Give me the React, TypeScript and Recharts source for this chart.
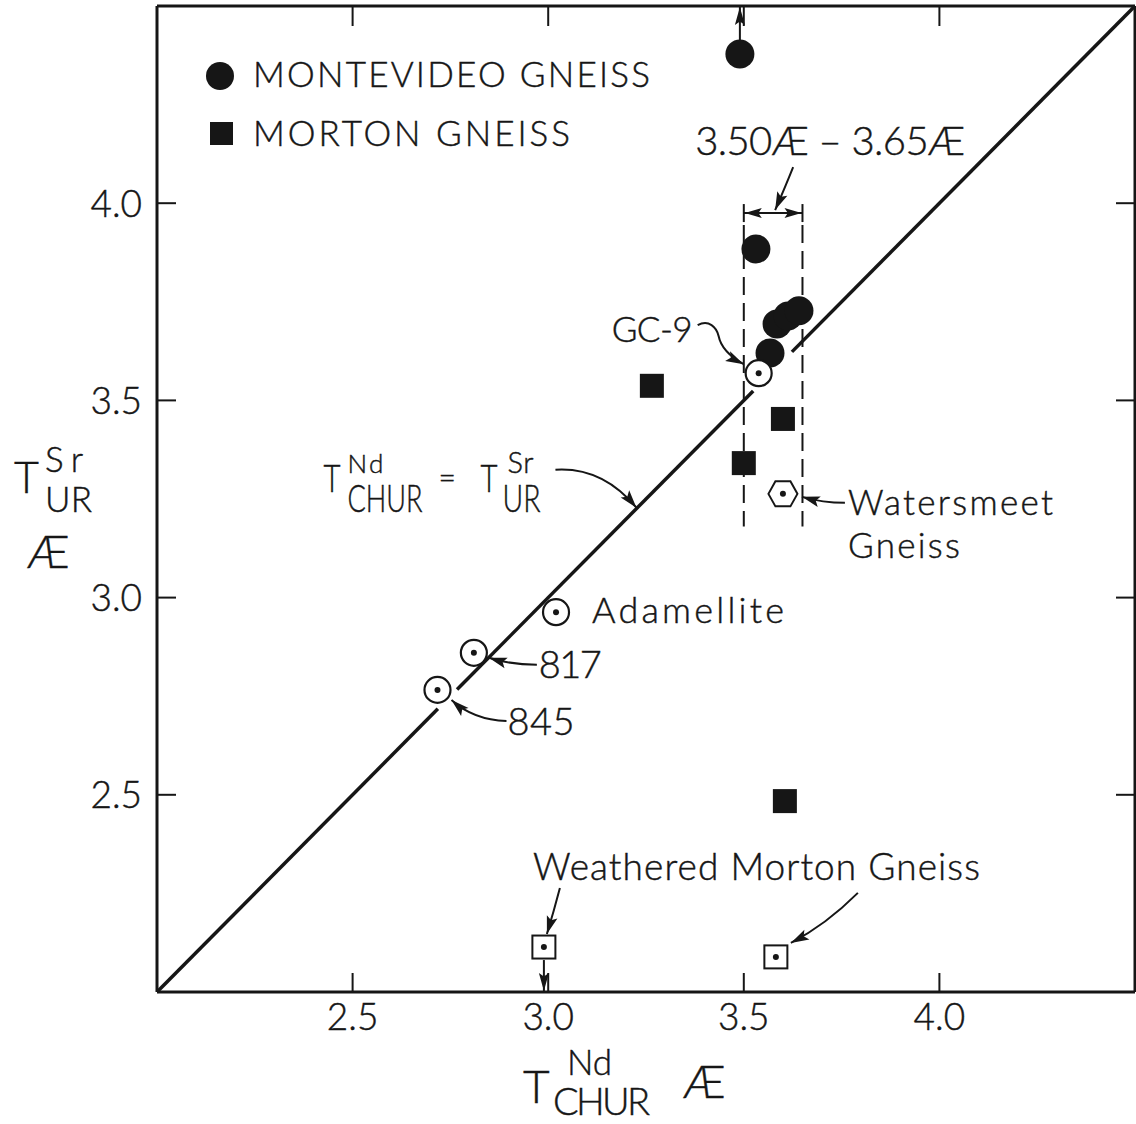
import React from 'react';
import { ScatterChart, Scatter, XAxis, YAxis, ReferenceLine, ReferenceDot, Legend } from 'recharts';

const FONT = "Lato, 'Open Sans', 'DejaVu Sans', sans-serif";
const INK = '#161616';
const W = 1136;
const H = 1124;

// Nd model ages T(CHUR) and Sr model ages T(UR), in Æ
const montevideoNd = [3.49, 3.531, 3.567, 3.585, 3.613, 3.641];
const montevideoSr = [4.378, 3.884, 3.62, 3.694, 3.714, 3.727];
const mortonNd = [3.265, 3.6, 3.5, 3.605];
const mortonSr = [3.537, 3.453, 3.341, 2.484];
const sampleNames = ['GC-9', 'Adamellite', '817', '845'];
const sampleNd = [3.538, 3.02, 2.81, 2.717];
const sampleSr = [3.569, 2.963, 2.86, 2.766];
const watersmeetNd = [3.6];
const watersmeetSr = [3.263];
const weatheredNd = [2.989, 3.582];
const weatheredSr = [2.114, 2.089];
const axisTicks = [2.5, 3.0, 3.5, 4.0];
const axisDomain = [2.0, 4.5];
const ndAgeRange = [3.5, 3.65];
// visible runs of the 1:1 line (it is broken around GC-9 and 845)
const equalityRuns = [
  [2.0, 2.718],
  [2.767, 3.524],
  [3.623, 4.5],
];

const pts = (xs: number[], ys: number[], names?: string[]) =>
  xs.map((x, i) => ({ x, y: ys[i], name: names ? names[i] : undefined }));

const fmt = (v: number) => v.toFixed(1);

function Txt({ x, y, size = 35, len, squeeze, children, anchor = 'start', dy }: any) {
  return (
    <text
      x={x}
      y={y}
      dy={dy}
      fontSize={size}
      fontFamily={FONT}
      fontWeight={300}
      fill={INK}
      stroke={INK}
      strokeWidth={0.45}
      textAnchor={anchor}
      textLength={len}
      lengthAdjust={len ? (squeeze ? 'spacingAndGlyphs' : 'spacing') : undefined}
    >
      {children}
    </text>
  );
}

function Head({ x, y, fx, fy, len = 18, half = 5.5 }: any) {
  const dx = x - fx;
  const dy = y - fy;
  const L = Math.hypot(dx, dy) || 1;
  const ux = dx / L;
  const uy = dy / L;
  const bx = x - ux * len;
  const by = y - uy * len;
  const mx = x - ux * len * 0.8;
  const my = y - uy * len * 0.8;
  return (
    <polygon
      points={`${x},${y} ${bx - uy * half},${by + ux * half} ${mx},${my} ${bx + uy * half},${by - ux * half}`}
      fill={INK}
    />
  );
}

function CurveArrow({ ox, oy, s, c, e, w = 2 }: any) {
  const S = [ox + s[0], oy + s[1]];
  const C = [ox + c[0], oy + c[1]];
  const E = [ox + e[0], oy + e[1]];
  return (
    <g>
      <path d={`M${S[0]},${S[1]} Q${C[0]},${C[1]} ${E[0]},${E[1]}`} fill="none" stroke={INK} strokeWidth={w} />
      <Head x={E[0]} y={E[1]} fx={C[0]} fy={C[1]} />
    </g>
  );
}

// label placement for the named samples, in pixels from the symbol
const sampleNotes: Record<string, any> = {
  'GC-9': { text: [-147, -31], size: 35, len: 81 },
  Adamellite: { text: [36, 11], size: 36, len: 192 },
  '817': { text: [65, 25], size: 38, len: 63, arrow: { s: [63, 12], c: [38, 12], e: [15, 5] } },
  '845': { text: [70, 45], size: 38, len: 67, arrow: { s: [69, 31], c: [36, 30], e: [14, 10] } },
};

function SampleNote({ cx, cy, name }: any) {
  const n = sampleNotes[name];
  return (
    <g>
      <Txt x={cx + n.text[0]} y={cy + n.text[1]} size={n.size} len={n.len}>
        {name}
      </Txt>
      {n.arrow && <CurveArrow ox={cx} oy={cy} {...n.arrow} />}
      {name === 'GC-9' && (
        <g>
          <path
            d={`M${cx - 61},${cy - 48} C${cx - 50},${cy - 54} ${cx - 42},${cy - 46} ${cx - 40},${cy - 37} C${cx - 38},${cy - 27} ${cx - 31},${cy - 18} ${cx - 15},${cy - 9}`}
            fill="none"
            stroke={INK}
            strokeWidth={2}
          />
          <Head x={cx - 15} y={cy - 9} fx={cx - 31} fy={cy - 17} />
        </g>
      )}
    </g>
  );
}

function WatersmeetNote({ cx, cy }: any) {
  return (
    <g>
      <Txt x={cx + 65} y={cy + 21} size={35} len={205}>Watersmeet</Txt>
      <Txt x={cx + 65} y={cy + 64} size={35} len={112}>Gneiss</Txt>
      <CurveArrow ox={cx} oy={cy} s={[62, 9]} c={[40, 9]} e={[19, 3]} />
    </g>
  );
}

function WeatheredNote({ cx, cy }: any) {
  return (
    <g>
      <Txt x={cx - 11} y={cy - 67} size={37} len={447}>Weathered Morton Gneiss</Txt>
      <CurveArrow ox={cx} oy={cy} s={[16, -59]} c={[10, -36]} e={[3, -13]} />
    </g>
  );
}

function WeatheredNote2({ cx, cy }: any) {
  return <CurveArrow ox={cx} oy={cy} s={[82, -64]} c={[50, -32]} e={[15, -14]} />;
}

function EqualityNote({ cx, cy }: any) {
  return (
    <g>
      <Txt x={cx - 303} y={cy - 27} size={38} len={17} squeeze>T</Txt>
      <Txt x={cx - 279} y={cy - 46} size={26} len={36}>Nd</Txt>
      <Txt x={cx - 279} y={cy - 7} size={37} len={75} squeeze>CHUR</Txt>
      <Txt x={cx - 188} y={cy - 31} size={30}>=</Txt>
      <Txt x={cx - 146} y={cy - 27} size={38} len={17} squeeze>T</Txt>
      <Txt x={cx - 119} y={cy - 46} size={29} len={26}>Sr</Txt>
      <Txt x={cx - 124} y={cy - 7} size={37} len={38} squeeze>UR</Txt>
      <CurveArrow ox={cx} oy={cy} s={[-71, -49]} c={[-24, -52]} e={[10, -11]} />
    </g>
  );
}

function RangeBracket({ x1, y1, x2 }: any) {
  const y = y1;
  const mid = (x1 + x2) / 2;
  return (
    <g>
      <line x1={x1} x2={x1} y1={y - 9} y2={y + 9} stroke={INK} strokeWidth={2} />
      <line x1={x2} x2={x2} y1={y - 9} y2={y + 9} stroke={INK} strokeWidth={2} />
      <line x1={x1} x2={x2} y1={y} y2={y} stroke={INK} strokeWidth={2} />
      <Head x={x1 + 1} y={y} fx={mid} fy={y} len={17} half={5} />
      <Head x={x2 - 1} y={y} fx={mid} fy={y} len={17} half={5} />
      <Txt x={mid - 78} y={y - 58} size={40} len={270}>
        {`${ndAgeRange[0].toFixed(2)}Æ – ${ndAgeRange[1].toFixed(2)}Æ`}
      </Txt>
      <CurveArrow ox={mid} oy={y} s={[20, -46]} c={[12, -26]} e={[2, -3]} />
    </g>
  );
}

// arrow from a symbol out to the frame (value beyond the plotted range)
function LimitArrow({ x1, y1, x2, y2 }: any) {
  const dir = Math.sign(y2 - y1);
  const gap = 13;
  return (
    <g>
      <line x1={x1} x2={x2} y1={y1 + dir * gap} y2={y2} stroke={INK} strokeWidth={2} />
      <Head x={x2} y={y2 - dir * 1} fx={x1} fy={y1} len={18} half={5} />
    </g>
  );
}

const filledCircle = (p: any) => <circle cx={p.cx} cy={p.cy} r={14.5} fill={INK} />;
const filledSquare = (p: any) => <rect x={p.cx - 12} y={p.cy - 12} width={24} height={24} fill={INK} />;
const dottedCircle = (p: any) => (
  <g>
    <circle cx={p.cx} cy={p.cy} r={13} fill="#fff" stroke={INK} strokeWidth={2.2} />
    <circle cx={p.cx} cy={p.cy} r={3} fill={INK} />
  </g>
);
const dottedHexagon = (p: any) => {
  const { cx, cy } = p;
  const d = `M${cx - 14.5},${cy} L${cx - 7.5},${cy - 12.5} L${cx + 7.5},${cy - 12.5} L${cx + 14.5},${cy} L${cx + 7.5},${cy + 12.5} L${cx - 7.5},${cy + 12.5} Z`;
  return (
    <g>
      <path d={d} fill="#fff" stroke={INK} strokeWidth={2} />
      <circle cx={cx} cy={cy} r={3} fill={INK} />
    </g>
  );
};
const dottedSquare = (p: any) => (
  <g>
    <rect x={p.cx - 11.5} y={p.cy - 11.5} width={23} height={23} fill="#fff" stroke={INK} strokeWidth={2} />
    <circle cx={p.cx} cy={p.cy} r={3} fill={INK} />
  </g>
);

// axis ticks point into the frame; labels sit outside it
const BOTTOM_GAP = 11;
const LEFT_GAP = 15;
const TICK_LEN = 19;
const BottomTick = ({ x, y, payload }: any) => (
  <g>
    <line x1={x} x2={x} y1={y - BOTTOM_GAP} y2={y - BOTTOM_GAP - TICK_LEN} stroke={INK} strokeWidth={2} />
    <Txt x={x} y={y} dy="0.72em" size={37} anchor="middle">{fmt(payload.value)}</Txt>
  </g>
);
const LeftTick = ({ x, y, payload }: any) => (
  <g>
    <line x1={x + LEFT_GAP} x2={x + LEFT_GAP + TICK_LEN} y1={y} y2={y} stroke={INK} strokeWidth={2} />
    <Txt x={x} y={y} dy="0.36em" size={37} anchor="end">{fmt(payload.value)}</Txt>
  </g>
);
const TopTick = ({ x, y }: any) => <line x1={x} x2={x} y1={y} y2={y + TICK_LEN + 1} stroke={INK} strokeWidth={2} />;
const RightTick = ({ x, y }: any) => <line x1={x} x2={x - TICK_LEN} y1={y} y2={y} stroke={INK} strokeWidth={2} />;

function XTitle({ viewBox }: any) {
  const { x, y } = viewBox;
  return (
    <g>
      <Txt x={x + 366} y={y + 111} size={46}>T</Txt>
      <Txt x={x + 410} y={y + 83} size={35} len={45}>Nd</Txt>
      <Txt x={x + 396} y={y + 123} size={38} len={97}>CHUR</Txt>
      <Txt x={x + 526} y={y + 106} size={46}>Æ</Txt>
    </g>
  );
}

function YTitle({ viewBox }: any) {
  const { x, y } = viewBox;
  return (
    <g>
      <Txt x={x + 14} y={y + 487} size={43}>T</Txt>
      <Txt x={x + 45} y={y + 466} size={35} len={38}>Sr</Txt>
      <Txt x={x + 45} y={y + 506} size={35} len={47}>UR</Txt>
      <Txt x={x + 27} y={y + 562} size={46}>Æ</Txt>
    </g>
  );
}

function LegendBox({ payload }: any) {
  const names = (payload || []).map((p: any) => p.value);
  return (
    <svg width={470} height={110} style={{ display: 'block' }}>
      {names.includes('MONTEVIDEO GNEISS') && (
        <g>
          <circle cx={25} cy={31} r={14} fill={INK} />
          <Txt x={58} y={42} size={35} len={397}>MONTEVIDEO GNEISS</Txt>
        </g>
      )}
      {names.includes('MORTON GNEISS') && (
        <g>
          <rect x={15} y={77} width={23} height={23} fill={INK} />
          <Txt x={58} y={101} size={35} len={317}>MORTON GNEISS</Txt>
        </g>
      )}
    </svg>
  );
}

const axisLine = { stroke: INK, strokeWidth: 3 };

export default function App() {
  return (
    <div style={{ position: 'absolute', left: 0, top: 0, width: W, height: H, background: '#fff' }}>
      <ScatterChart width={W} height={H} margin={{ top: 0, right: 0, bottom: 0, left: 0 }}>
        <XAxis
          dataKey="x"
          type="number"
          domain={axisDomain}
          ticks={axisTicks}
          interval={0}
          allowDataOverflow
          height={132}
          axisLine={axisLine}
          tickLine={false}
          tickSize={0}
          tickMargin={BOTTOM_GAP}
          tick={(p: any) => <BottomTick {...p} />}
          label={(props: any) => <XTitle {...props} />}
        />
        <XAxis
          xAxisId="top"
          orientation="top"
          dataKey="x"
          type="number"
          domain={axisDomain}
          ticks={axisTicks}
          interval={0}
          allowDataOverflow
          height={6}
          axisLine={axisLine}
          tickLine={false}
          tickSize={0}
          tickMargin={0}
          tick={(p: any) => <TopTick {...p} />}
        />
        <YAxis
          dataKey="y"
          type="number"
          domain={axisDomain}
          ticks={axisTicks}
          interval={0}
          allowDataOverflow
          width={157}
          axisLine={axisLine}
          tickLine={false}
          tickSize={0}
          tickMargin={LEFT_GAP}
          tick={(p: any) => <LeftTick {...p} />}
          label={(props: any) => <YTitle {...props} />}
        />
        <YAxis
          yAxisId="right"
          orientation="right"
          dataKey="y"
          type="number"
          domain={axisDomain}
          ticks={axisTicks}
          interval={0}
          allowDataOverflow
          width={1}
          axisLine={axisLine}
          tickLine={false}
          tickSize={0}
          tickMargin={0}
          tick={(p: any) => <RightTick {...p} />}
        />

        {equalityRuns.map(([a, b], i) => (
          <ReferenceLine
            key={`eq${i}`}
            segment={[{ x: a, y: a }, { x: b, y: b }]}
            stroke={INK}
            strokeWidth={3.5}
          />
        ))}
        {ndAgeRange.map((v, i) => (
          <ReferenceLine
            key={`rng${i}`}
            segment={[{ x: v, y: 3.945 }, { x: v, y: 3.18 }]}
            stroke={INK}
            strokeWidth={2}
            strokeDasharray="18 8"
          />
        ))}
        <ReferenceLine
          segment={[{ x: ndAgeRange[0], y: 3.975 }, { x: ndAgeRange[1], y: 3.975 }]}
          shape={(p: any) => <RangeBracket {...p} />}
        />
        <ReferenceLine
          segment={[{ x: montevideoNd[0], y: montevideoSr[0] }, { x: montevideoNd[0], y: axisDomain[1] }]}
          shape={(p: any) => <LimitArrow {...p} />}
        />
        <ReferenceLine
          segment={[{ x: weatheredNd[0], y: weatheredSr[0] }, { x: weatheredNd[0], y: axisDomain[0] }]}
          shape={(p: any) => <LimitArrow {...p} />}
        />
        <ReferenceDot x={3.2} y={3.2} r={0} shape={(p: any) => <EqualityNote {...p} />} />

        <Scatter name="MONTEVIDEO GNEISS" data={pts(montevideoNd, montevideoSr)} shape={filledCircle} isAnimationActive={false} />
        <Scatter name="MORTON GNEISS" data={pts(mortonNd, mortonSr)} shape={filledSquare} isAnimationActive={false} />
        <Scatter name="Samples" legendType="none" data={pts(sampleNd, sampleSr, sampleNames)} shape={dottedCircle} isAnimationActive={false} />
        <Scatter name="Watersmeet Gneiss" legendType="none" data={pts(watersmeetNd, watersmeetSr)} shape={dottedHexagon} isAnimationActive={false} />
        <Scatter name="Weathered Morton Gneiss" legendType="none" data={pts(weatheredNd, weatheredSr)} shape={dottedSquare} isAnimationActive={false} />

        {sampleNames.map((n, i) => (
          <ReferenceDot key={n} x={sampleNd[i]} y={sampleSr[i]} r={0} shape={(p: any) => <SampleNote {...p} name={n} />} />
        ))}
        <ReferenceDot x={watersmeetNd[0]} y={watersmeetSr[0]} r={0} shape={(p: any) => <WatersmeetNote {...p} />} />
        <ReferenceDot x={weatheredNd[0]} y={weatheredSr[0]} r={0} shape={(p: any) => <WeatheredNote {...p} />} />
        <ReferenceDot x={weatheredNd[1]} y={weatheredSr[1]} r={0} shape={(p: any) => <WeatheredNote2 {...p} />} />

        <Legend
          layout="vertical"
          align="center"
          verticalAlign="middle"
          content={(p: any) => <LegendBox {...p} />}
          wrapperStyle={{ position: 'absolute', left: 195, top: 45, width: 470, height: 110 }}
        />
      </ScatterChart>
    </div>
  );
}
